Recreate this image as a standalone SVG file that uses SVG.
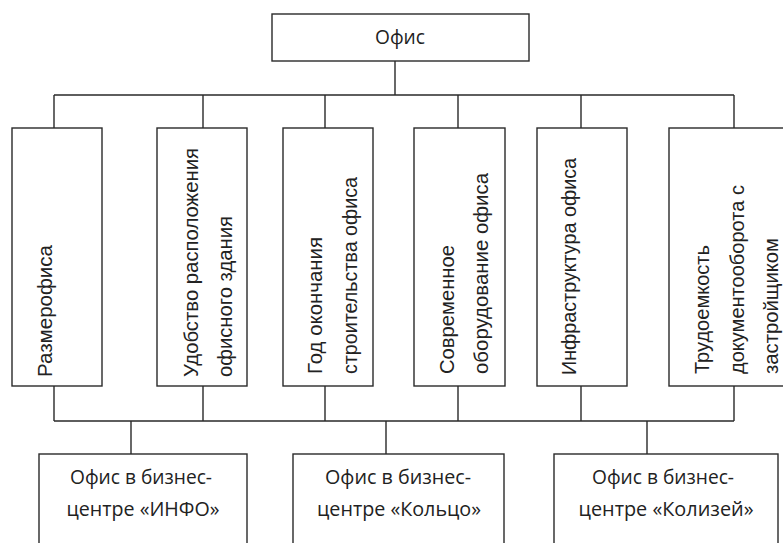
<svg xmlns="http://www.w3.org/2000/svg" width="783" height="543" viewBox="0 0 783 543">
<style>
.box{fill:#fff;stroke:#2a2a2a;stroke-width:1.4}
.ln{fill:none;stroke:#2a2a2a;stroke-width:1.4}
.v{font-family:"Liberation Sans",Arial,sans-serif;font-size:21px;fill:#222}
.h{font-family:"Open Sans","Noto Sans",sans-serif;font-size:20px;fill:#222;text-anchor:middle}
</style>
<rect width="783" height="543" fill="#fff"/>
<g id="connectors">
<path class="ln" d="M395,61 V95 M54,95 H734 M54,95 V128 M203,95 V128 M325,95 V128 M458,95 V128 M581,95 V128 M734,95 V128"/>
<path class="ln" d="M54,386 V421 M203,386 V421 M325,386 V421 M458,386 V421 M581,386 V421 M734,386 V421 M54,421 H734 M131,421 V454 M386,421 V454 M647,421 V454"/>
</g>
<g id="office">
<rect class="box" x="272" y="14" width="257" height="47"/>
<text class="h" x="400" y="44" textLength="50" lengthAdjust="spacingAndGlyphs">Офис</text>
</g>
<g id="size">
<rect class="box" x="12" y="128" width="90" height="258"/>
<text class="v" transform="translate(52,377) rotate(-90)" textLength="132" lengthAdjust="spacingAndGlyphs">Размерофиса</text>
</g>
<g id="location">
<rect class="box" x="157" y="128" width="90" height="258"/>
<text class="v" transform="translate(198,377) rotate(-90)" textLength="229" lengthAdjust="spacingAndGlyphs">Удобство расположения</text>
<text class="v" transform="translate(232,377) rotate(-90)" textLength="161" lengthAdjust="spacingAndGlyphs">офисного здания</text>
</g>
<g id="year">
<rect class="box" x="283" y="128" width="90" height="258"/>
<text class="v" transform="translate(322,374) rotate(-90)" textLength="137" lengthAdjust="spacingAndGlyphs">Год окончания</text>
<text class="v" transform="translate(357,374) rotate(-90)" textLength="197" lengthAdjust="spacingAndGlyphs">строительства  офиса</text>
</g>
<g id="equipment">
<rect class="box" x="414" y="128" width="91" height="258"/>
<text class="v" transform="translate(454,374) rotate(-90)" textLength="129" lengthAdjust="spacingAndGlyphs">Современное</text>
<text class="v" transform="translate(488,374) rotate(-90)" textLength="201" lengthAdjust="spacingAndGlyphs">оборудование  офиса</text>
</g>
<g id="infrastructure">
<rect class="box" x="537" y="128" width="90" height="258"/>
<text class="v" transform="translate(576,375) rotate(-90)" textLength="217" lengthAdjust="spacingAndGlyphs">Инфраструктура  офиса</text>
</g>
<g id="labor">
<rect class="box" x="669" y="128" width="130" height="258"/>
<text class="v" transform="translate(709,374) rotate(-90)" textLength="129" lengthAdjust="spacingAndGlyphs">Трудоемкость</text>
<text class="v" transform="translate(744,374) rotate(-90)" textLength="189" lengthAdjust="spacingAndGlyphs">документооборота с</text>
<text class="v" transform="translate(778,374) rotate(-90)" textLength="136" lengthAdjust="spacingAndGlyphs">застройщиком</text>
</g>
<g id="info">
<rect class="box" x="39" y="454" width="208" height="110"/>
<text class="h" x="141" y="484" textLength="142" lengthAdjust="spacingAndGlyphs">Офис в бизнес-</text>
<text class="h" x="143" y="516" textLength="153" lengthAdjust="spacingAndGlyphs">центре «ИНФО»</text>
</g>
<g id="koltso">
<rect class="box" x="293" y="454" width="211" height="110"/>
<text class="h" x="398" y="484" textLength="146" lengthAdjust="spacingAndGlyphs">Офис в бизнес-</text>
<text class="h" x="399" y="516" textLength="164" lengthAdjust="spacingAndGlyphs">центре «Кольцо»</text>
</g>
<g id="colosseum">
<rect class="box" x="554" y="454" width="224" height="110"/>
<text class="h" x="663" y="484" textLength="142" lengthAdjust="spacingAndGlyphs">Офис в бизнес-</text>
<text class="h" x="666" y="516" textLength="175" lengthAdjust="spacingAndGlyphs">центре «Колизей»</text>
</g>
</svg>
